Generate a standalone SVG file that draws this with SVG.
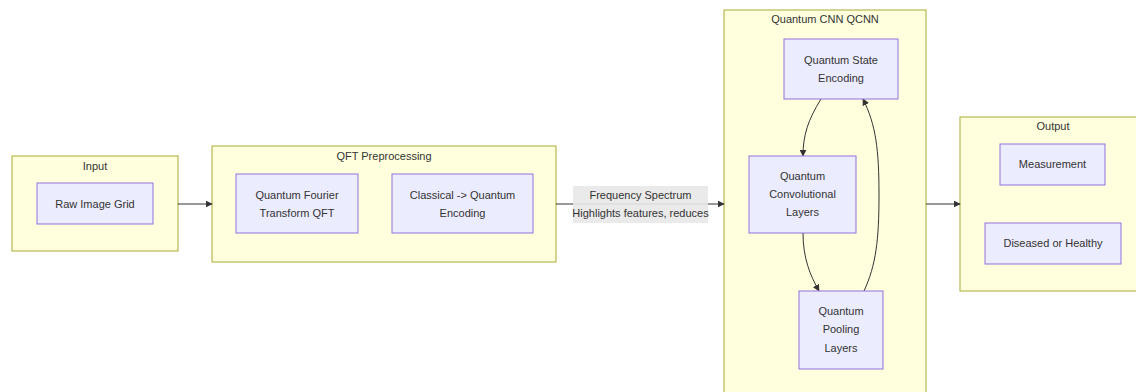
<svg xmlns="http://www.w3.org/2000/svg" width="1136" height="392" viewBox="0 0 1136 392">
<style>
.cluster{fill:#ffffde;stroke:#aaaa33;stroke-width:1}
.node{fill:#ececff;stroke:#9370db;stroke-width:1}
text{font-family:"Liberation Sans",Arial,sans-serif;font-size:11px;fill:#333;text-anchor:middle;dominant-baseline:central}
.edge{fill:none;stroke:#333;stroke-width:1}
.lbl{fill:#e8e8e8;opacity:0.9}
</style>
<defs>
<marker id="arr" viewBox="0 0 10 10" refX="9" refY="5" markerWidth="7" markerHeight="7" orient="auto" markerUnits="userSpaceOnUse">
<path d="M0,0 L10,5 L0,10 z" fill="#333"/>
</marker>
</defs>
<rect width="1136" height="392" fill="#fff"/>
<g id="cluster-input"><rect class="cluster" x="12" y="156" width="166" height="95"/><text x="95" y="166">Input</text></g>
<g id="cluster-qft"><rect class="cluster" x="212" y="146" width="344" height="116"/><text x="384" y="156">QFT Preprocessing</text></g>
<g id="cluster-qcnn"><rect class="cluster" x="724" y="10" width="202" height="390"/><text x="825" y="19">Quantum CNN QCNN</text></g>
<g id="cluster-output"><rect class="cluster" x="960" y="117" width="180" height="174"/><text x="1053" y="126">Output</text></g>
<g id="connectors">
<path class="edge" d="M178,204 L212,204" marker-end="url(#arr)"/>
<path class="edge" d="M556,204 L724,204" marker-end="url(#arr)"/>
<path class="edge" d="M926,204 L960,204" marker-end="url(#arr)"/>
<path class="edge" d="M821,99 C808,120 803,135 803,156" marker-end="url(#arr)"/>
<path class="edge" d="M803,233 C803,258 810,275 819,291" marker-end="url(#arr)"/>
<path class="edge" d="M864,291 C876,265 879,240 879,195 C879,150 876,125 863,99" marker-end="url(#arr)"/>
<rect class="lbl" x="573" y="186" width="135" height="37"/>
<text x="640.5" y="195">Frequency Spectrum</text>
<text x="640.5" y="213">Highlights features, reduces</text>
</g>
<g id="raw"><rect class="node" x="37" y="183" width="116" height="41"/><text x="95" y="204">Raw Image Grid</text></g>
<g id="qft"><rect class="node" x="236" y="174" width="122" height="59"/><text x="297" y="195">Quantum Fourier</text><text x="297" y="213">Transform QFT</text></g>
<g id="cq"><rect class="node" x="392" y="174" width="141" height="59"/><text x="462.5" y="195">Classical -&gt; Quantum</text><text x="462.5" y="213">Encoding</text></g>
<g id="qse"><rect class="node" x="784" y="39" width="114" height="60"/><text x="841" y="60">Quantum State</text><text x="841" y="78">Encoding</text></g>
<g id="qconv"><rect class="node" x="749" y="156" width="107" height="77"/><text x="802.5" y="176">Quantum</text><text x="802.5" y="194">Convolutional</text><text x="802.5" y="212">Layers</text></g>
<g id="qpool"><rect class="node" x="799" y="291" width="84" height="78"/><text x="841" y="311">Quantum</text><text x="841" y="329">Pooling</text><text x="841" y="348">Layers</text></g>
<g id="meas"><rect class="node" x="1000" y="144" width="105" height="41"/><text x="1052.5" y="164">Measurement</text></g>
<g id="dh"><rect class="node" x="985" y="223" width="136" height="41"/><text x="1053" y="243">Diseased or Healthy</text></g>
</svg>
